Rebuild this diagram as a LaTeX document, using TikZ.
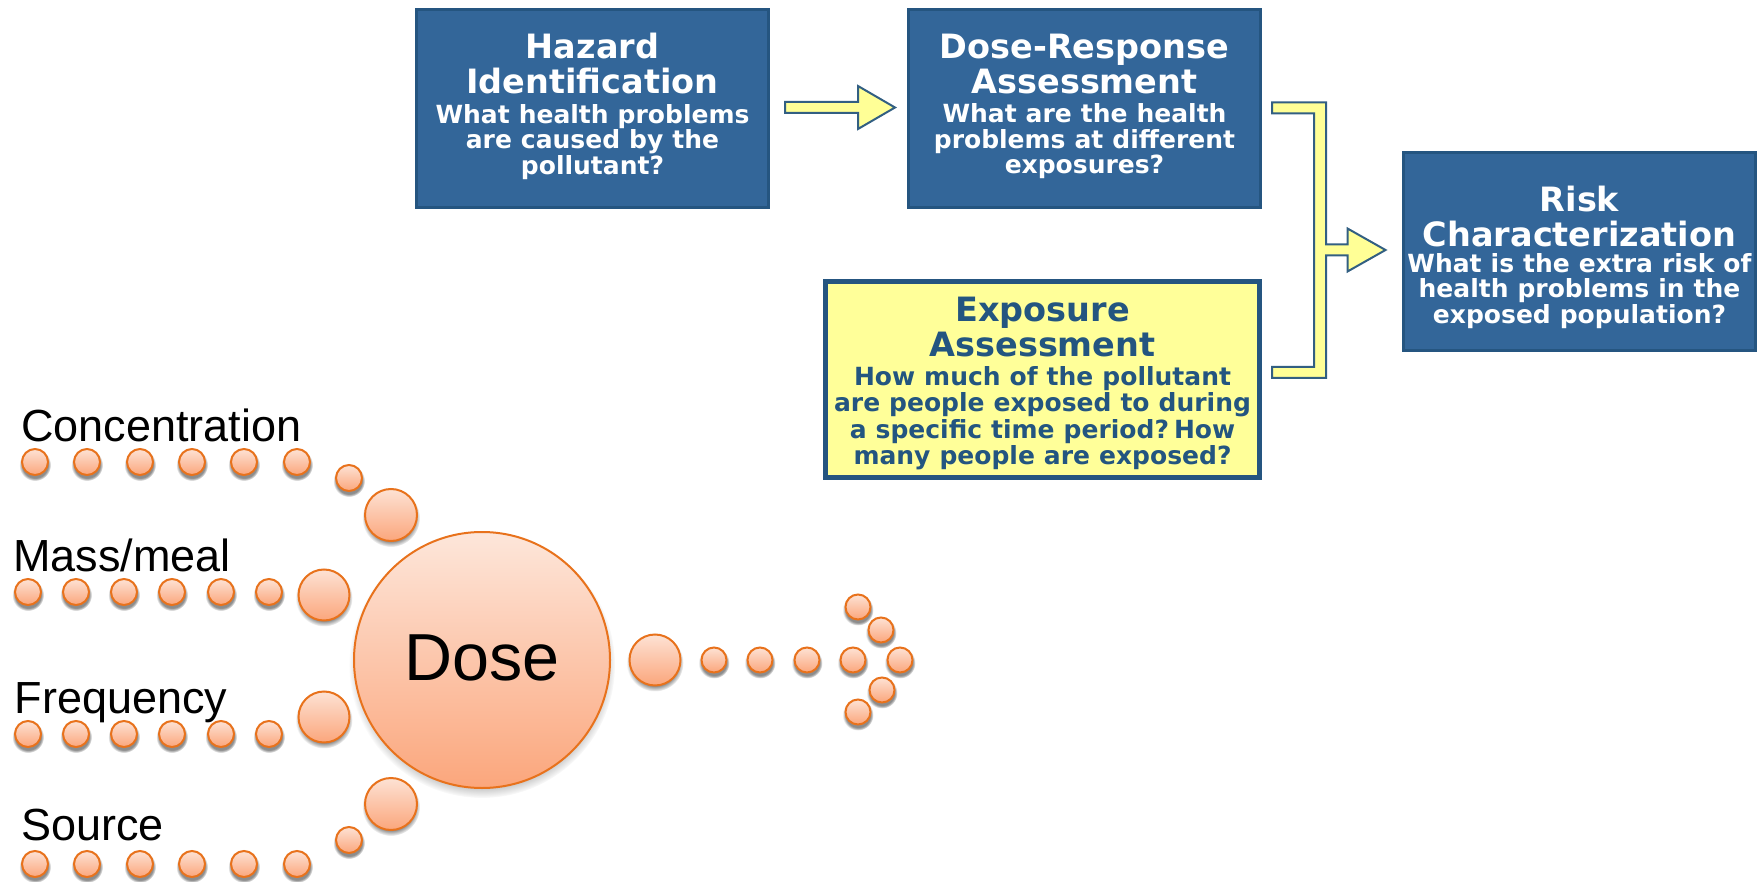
\documentclass[tikz,border=0pt]{standalone}
\usepackage{fontspec}
\setmainfont{Liberation Sans}
\newfontfamily\vfont{DejaVu Sans}
\usetikzlibrary{calc,fadings}
\definecolor{boxblue}{RGB}{51,102,153}
\definecolor{boxline}{RGB}{37,85,128}
\definecolor{expfill}{RGB}{255,255,153}
\definecolor{exptext}{RGB}{35,85,128}
\definecolor{arrfill}{RGB}{255,255,150}
\definecolor{arrline}{RGB}{50,95,130}
\definecolor{beadtop}{RGB}{253,226,212}
\definecolor{beadbot}{RGB}{251,166,124}
\definecolor{beadline}{RGB}{232,114,28}
\newcommand\ttlfont{\vfont\bfseries\fontsize{33.5}{35}\selectfont}
\newcommand\subfont{\vfont\bfseries\fontsize{25}{25.5}\selectfont\spaceskip=0.36em\relax\hyphenpenalty=10000 \exhyphenpenalty=10000 }
\newcommand\subfontb{\vfont\bfseries\fontsize{25}{26.5}\selectfont\spaceskip=0.36em\relax\hyphenpenalty=10000 \exhyphenpenalty=10000 }
% trailing vertical adjustment that is not discarded
\newcommand\vadj[1]{\par\vskip#1\nointerlineskip\hbox{}}
\newcommand\beadat[3]{%
  \fill[black,opacity=0.45,path fading=circle with fuzzy edge 20 percent] (#1,#2+3) circle[radius={#3+3}];
  \path[bead] (#1,#2) circle[radius=#3];}
\begin{document}
\begin{tikzpicture}[x=1pt,y=-1pt,
  bluebox/.style={draw=boxline,line width=3,fill=boxblue,text=white,align=center,
    minimum width=352,minimum height=198,text width=350,inner sep=0},
  yelbox/.style={draw=boxline,line width=5,fill=expfill,text=exptext,align=center,
    minimum width=434,minimum height=196,text width=430,inner sep=0},
  yarrow/.style={fill=arrfill,draw=arrline,line width=2,line join=miter},
  bead/.style={draw=beadline,line width=2,top color=beadtop,bottom color=beadbot},
  lbl/.style={anchor=base west,inner sep=0,font=\fontsize{45}{50}\selectfont},
  dosecirc/.style={circle,minimum size=256,inner sep=0,draw=beadline,line width=2,
    top color=beadtop!85!white,bottom color=beadbot,font=\fontsize{66.5}{70}\selectfont}]
\useasboundingbox (0,0) rectangle (1759,882);
\clip (0,0) rectangle (1759,882);

% boxes
\node[bluebox] (hz) at (592.5,108.5) {\ttlfont Hazard\\Identification\par\vskip4pt
  \subfont What health problems\\are caused by the\\pollutant?\vadj{4.5pt}};
\node[bluebox] (dr) at (1084.5,108.5) {\ttlfont Dose-Response\\Assessment\par\vskip4pt
  \subfont What are the health\\problems at different\\exposures?\vadj{4.5pt}};
\node[bluebox] (rk) at (1579.5,252) {\ttlfont Risk\\Characterization\par\vskip0pt
  \subfont What is the extra risk of\\health problems in the\\exposed population?\vadj{-11pt}};
\node[yelbox] (ex) at (1042.5,379.5) {\ttlfont Exposure\\Assessment\par\vskip2pt
  \subfontb How much of the pollutant\\are people exposed to during\\a specific time period? How\\many people are exposed?\vadj{-8pt}};

% arrow hazard -> dose-response
\coordinate (a1s) at ($(hz.east)+(15,-1)$);
\coordinate (a1e) at ($(dr.west)+(-12,-1)$);
\coordinate (a1h) at ($(a1e)+(-37,0)$);
\draw[yarrow] ($(a1s)+(0,-5.5)$) -- ($(a1h)+(0,-5.5)$) -- ($(a1h)+(0,-21.5)$) -- (a1e)
  -- ($(a1h)+(0,21.5)$) -- ($(a1h)+(0,5.5)$) -- ($(a1s)+(0,5.5)$) -- cycle;

% bracket arrow -> risk characterization
\coordinate (bt) at ($(dr.east)+(10,-0.5)$);
\coordinate (bbraw) at ($(ex.east)+(0,-7)$);
\coordinate (bb) at (bt |- bbraw);
\coordinate (tip) at ($(rk.west)+(-16.5,-2)$);
\coordinate (xo) at ($(bt)+(54,0)$);
\coordinate (xi) at ($(bt)+(42,0)$);
\coordinate (hb) at ($(tip)+(-38,0)$);
\draw[yarrow] ($(bt)+(0,-5.5)$) -- ($(xo)+(0,-5.5)$) -- ($(xo |- tip)+(0,-5.5)$)
  -- ($(hb)+(0,-5.5)$) -- ($(hb)+(0,-21.5)$) -- (tip) -- ($(hb)+(0,21.5)$)
  -- ($(hb)+(0,5.5)$) -- ($(xo |- tip)+(0,5.5)$) -- ($(xo |- bb)+(0,5.5)$)
  -- ($(bb)+(0,5.5)$) -- ($(bb)+(0,-5.5)$) -- ($(xi |- bb)+(0,-5.5)$)
  -- ($(xi)+(0,5.5)$) -- ($(bt)+(0,5.5)$) -- cycle;

% labels
\node[lbl] (lconc) at (21,442) {Concentration};
\node[lbl] (lmass) at (13,571) {Mass/meal};
\node[lbl] (lfreq) at (14.5,713) {Frequency};
\node[lbl] (lsrc) at (21,840) {Source};

% bead rows
\foreach \x in {35,87,140,192,244,297} {\beadat{\x}{462}{13}\beadat{\x}{864}{13}}
\foreach \x in {28,76,124,172,221,269} {\beadat{\x}{592}{13}\beadat{\x}{734}{13}}
\beadat{349}{478}{13}
\beadat{391}{515}{26}
\beadat{324}{595}{25.5}
\beadat{324}{717}{25.5}
\beadat{391}{804}{26}
\beadat{349}{840}{13}

% dose
\fill[black,opacity=0.4,path fading=circle with fuzzy edge 15 percent] (482,665) circle[radius=133];
\node[dosecirc] (dose) at (482,660) {\raisebox{-20pt}[0pt][0pt]{Dose}};

% right beads
\beadat{655}{660}{25.5}
\foreach \x in {714,760,807,853,900} {\beadat{\x}{660}{12.5}}
\beadat{858}{607}{12.5}
\beadat{881}{630}{12.5}
\beadat{882}{690}{12.5}
\beadat{858}{712}{12.5}
\end{tikzpicture}
\end{document}
